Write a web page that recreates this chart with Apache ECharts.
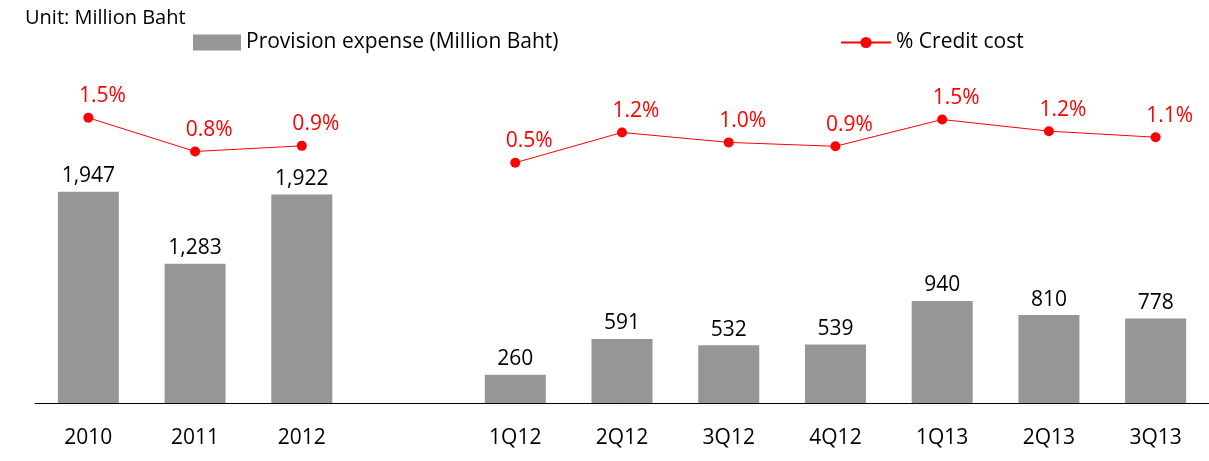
<!DOCTYPE html>
<html>
<head>
<meta charset="utf-8">
<script src="https://cdn.jsdelivr.net/npm/echarts@6/dist/echarts.min.js"></script>
<style>
  html, body { margin: 0; padding: 0; background: #fff; }
  #chart { width: 1209px; height: 461px; }
</style>
</head>
<body>
<div id="chart"></div>
<script>
// 类目（空的一格把年度和季度分开）
var categories = ['2010', '2011', '2012', '', '1Q12', '2Q12', '3Q12', '4Q12', '1Q13', '2Q13', '3Q13'];
// 拨备费用（百万泰铢）
var provision = [1947, 1283, 1922, '-', 260, 591, 532, 539, 940, 810, 778];
// 信贷成本 %
var creditCost = [1.54, 0.76, 0.89, '-', 0.5, 1.2, 0.97, 0.88, 1.5, 1.23, 1.09];

var font = '"Open Sans", Lato, sans-serif';

var chart = echarts.init(document.getElementById('chart'));

var option = {
    animation: false,
    textStyle: { fontFamily: font },
    title: {
        text: 'Unit: Million Baht',
        left: 20,
        top: 3,
        textStyle: { fontSize: 20, fontWeight: 'normal', color: '#000', fontFamily: font }
    },
    legend: [{
        data: ['Provision expense (Million Baht)'],
        left: 188,
        top: 27,
        icon: 'rect',
        itemWidth: 48,
        itemHeight: 16,
        textStyle: { fontSize: 21, color: '#000', fontFamily: font }
    }, {
        data: ['% Credit cost'],
        left: 835,
        top: 27,
        itemWidth: 50,
        itemHeight: 14,
        textStyle: { fontSize: 21, color: '#000', fontFamily: font }
    }],
    grid: {
        left: 35,
        right: 0,
        top: 43,
        bottom: 58
    },
    xAxis: {
        type: 'category',
        data: categories,
        axisTick: { show: false },
        axisLine: { lineStyle: { color: '#000', width: 1 } },
        axisLabel: { color: '#000', fontSize: 21, margin: 25, fontFamily: font }
    },
    yAxis: [{
        type: 'value',
        min: 0,
        max: 3318,
        show: false,
        splitLine: { show: false }
    }, {
        type: 'value',
        min: -5.0625,
        max: 3.271,
        show: false,
        splitLine: { show: false }
    }],
    series: [{
        name: 'Provision expense (Million Baht)',
        type: 'bar',
        data: provision,
        barWidth: 61,
        itemStyle: { color: '#969696' },
        label: {
            show: true,
            position: 'top',
            distance: 5,
            color: '#000',
            fontSize: 21,
            fontFamily: font,
            formatter: function (p) { return Number(p.value).toLocaleString('en-US'); }
        }
    }, {
        name: '% Credit cost',
        type: 'line',
        yAxisIndex: 1,
        data: creditCost,
        symbol: 'circle',
        symbolSize: 10,
        itemStyle: { color: '#ff0000' },
        lineStyle: { color: '#ff0000', width: 1 },
        label: {
            show: true,
            position: 'top',
            distance: 6,
            offset: [14, 0],
            color: '#ff0000',
            fontSize: 21,
            fontFamily: font,
            formatter: function (p) { return Number(p.value).toFixed(1) + '%'; }
        }
    }]
};

chart.setOption(option);
</script>
</body>
</html>
